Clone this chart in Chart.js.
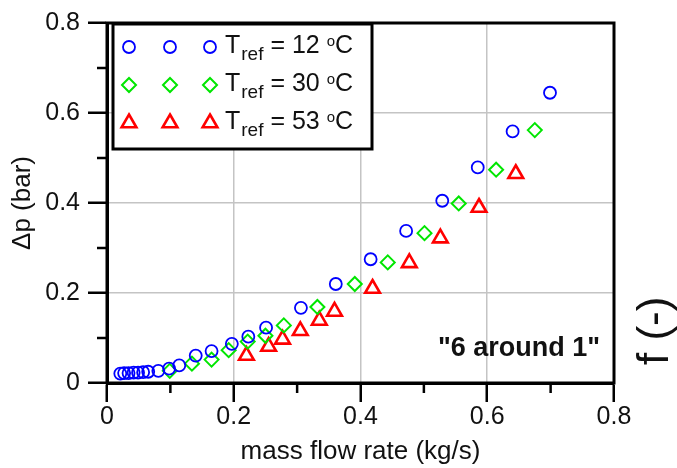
<!DOCTYPE html>
<html>
<head>
<meta charset="utf-8">
<script src="https://cdn.jsdelivr.net/npm/chart.js"></script>
<style>
  html, body { margin: 0; padding: 0; background: #fff; }
</style>
</head>
<body>
<canvas id="dp" width="677" height="468"></canvas>
<script>
// mass flow rate (kg/s) and pressure drop (bar) for each reference temperature
var flow12 = [0.021, 0.027, 0.034, 0.042, 0.049, 0.057, 0.065, 0.081, 0.098, 0.114, 0.140, 0.165,
  0.197, 0.223, 0.251, 0.306, 0.361, 0.416, 0.472, 0.529, 0.585, 0.640, 0.699];
var dp12 = [0.021, 0.022, 0.022, 0.023, 0.023, 0.024, 0.025, 0.027, 0.032, 0.039, 0.061, 0.071,
  0.087, 0.103, 0.123, 0.167, 0.220, 0.275, 0.338, 0.405, 0.479, 0.559, 0.645];

var flow30 = [0.099, 0.134, 0.165, 0.192, 0.222, 0.250, 0.279, 0.332, 0.391, 0.443, 0.501, 0.555, 0.614, 0.675];
var dp30 = [0.027, 0.043, 0.052, 0.073, 0.092, 0.105, 0.128, 0.169, 0.220, 0.268, 0.333, 0.399, 0.474, 0.562];

var flow53 = [0.220, 0.255, 0.277, 0.305, 0.335, 0.359, 0.419, 0.477, 0.526, 0.587, 0.645];
var dp53 = [0.061, 0.081, 0.097, 0.116, 0.139, 0.159, 0.210, 0.267, 0.322, 0.390, 0.465];

var tempLabels = ["12", "30", "53"];
var minorTicks = [0.1, 0.3, 0.5, 0.7];

var FONT = "'Liberation Sans', Arial, sans-serif";

function pts(xs, ys) {
  return xs.map(function (x, i) { return { x: x, y: ys[i] }; });
}

function marker(ctx, style, x, y, r) {
  ctx.beginPath();
  if (style === "circle") {
    ctx.arc(x, y, r, 0, Math.PI * 2);
  } else if (style === "rectRot") {
    ctx.moveTo(x - r, y); ctx.lineTo(x, y - r); ctx.lineTo(x + r, y); ctx.lineTo(x, y + r);
    ctx.closePath();
  } else {
    var a = 0;
    ctx.moveTo(x + Math.sin(a) * r, y - Math.cos(a) * r);
    a += Math.PI * 2 / 3;
    ctx.lineTo(x + Math.sin(a) * r, y - Math.cos(a) * r);
    a += Math.PI * 2 / 3;
    ctx.lineTo(x + Math.sin(a) * r, y - Math.cos(a) * r);
    ctx.closePath();
  }
  ctx.stroke();
}

// legend with three markers per row and T_ref subscripts
var legendBox = {
  id: "legendBox",
  afterDraw: function (chart) {
    var ctx = chart.ctx;
    ctx.save();
    ctx.fillStyle = "#fff";
    ctx.fillRect(113, 24, 259, 125);
    ctx.lineWidth = 3;
    ctx.strokeStyle = "#000";
    ctx.strokeRect(113, 24, 259, 125);
    chart.data.datasets.forEach(function (ds, i) {
      var base = 53 + i * 38;
      ctx.strokeStyle = ds.borderColor;
      ctx.lineWidth = ds.pointBorderWidth;
      [129, 170, 210].forEach(function (mx) {
        marker(ctx, ds.pointStyle, mx, base - 6, ds.pointRadius);
      });
      ctx.fillStyle = "#111";
      ctx.textBaseline = "alphabetic";
      ctx.textAlign = "left";
      var x = 225;
      ctx.font = "25px " + FONT;
      ctx.fillText("T", x, base);
      x += ctx.measureText("T").width + 1;
      ctx.font = "19px " + FONT;
      ctx.fillText("ref", x, base + 7);
      x += ctx.measureText("ref").width;
      ctx.font = "25px " + FONT;
      var mid = " = " + tempLabels[i] + " ";
      ctx.fillText(mid, x, base);
      x += ctx.measureText(mid).width;
      ctx.font = "15px " + FONT;
      ctx.fillText("o", x, base - 7);
      x += ctx.measureText("o").width;
      ctx.font = "25px " + FONT;
      ctx.fillText("C", x, base);
    });
    ctx.restore();
  }
};

// plot frame, minor ticks and the loose texts
var frame = {
  id: "frame",
  afterDraw: function (chart) {
    var ctx = chart.ctx, a = chart.chartArea;
    var xs = chart.scales.x, ys = chart.scales.y;
    ctx.save();
    ctx.strokeStyle = "#000";
    ctx.lineWidth = 3;
    ctx.strokeRect(a.left, a.top, a.right - a.left, a.bottom - a.top);
    ctx.lineWidth = 2.5;
    minorTicks.forEach(function (v) {
      var px = xs.getPixelForValue(v);
      ctx.beginPath(); ctx.moveTo(px, a.bottom); ctx.lineTo(px, a.bottom + 10); ctx.stroke();
      var py = ys.getPixelForValue(v);
      ctx.beginPath(); ctx.moveTo(a.left - 10, py); ctx.lineTo(a.left, py); ctx.stroke();
    });
    ctx.fillStyle = "#111";
    ctx.font = "bold 27px " + FONT;
    ctx.textAlign = "center";
    ctx.textBaseline = "alphabetic";
    ctx.fillText('"6 around 1"', 519, 356);
    ctx.translate(668, 365);
    ctx.rotate(-Math.PI / 2);
    ctx.textAlign = "left";
    ctx.font = "44px " + FONT;
    ctx.fillText("f (-)", 0, 0);
    ctx.restore();
  }
};

function gridColor(c) {
  var v = c.tick ? c.tick.value : 0;
  return (v > 0.01 && v < 0.79) ? "#c4c4c4" : "rgba(0,0,0,0)";
}

var axisCommon = {
  min: 0,
  max: 0.8,
  grid: { color: gridColor, lineWidth: 1.5, tickLength: 19, tickWidth: 2.5, tickColor: "#000" },
  border: { color: "#000", width: 3 }
};

new Chart(document.getElementById("dp"), {
  type: "scatter",
  data: {
    datasets: [
      { label: "12", data: pts(flow12, dp12), pointStyle: "circle", pointRadius: 6,
        borderColor: "#0000ff", backgroundColor: "rgba(0,0,0,0)", pointBorderWidth: 1.8 },
      { label: "30", data: pts(flow30, dp30), pointStyle: "rectRot", pointRadius: 7,
        borderColor: "#00e600", backgroundColor: "rgba(0,0,0,0)", pointBorderWidth: 2 },
      { label: "53", data: pts(flow53, dp53), pointStyle: "triangle", pointRadius: 8.5,
        borderColor: "#ff0000", backgroundColor: "rgba(0,0,0,0)", pointBorderWidth: 2.6 }
    ]
  },
  options: {
    responsive: false,
    animation: false,
    events: [],
    layout: { padding: { top: 18, right: 63, bottom: 0, left: 0 } },
    plugins: { legend: { display: false }, tooltip: { enabled: false } },
    scales: {
      x: Object.assign({}, axisCommon, {
        afterFit: function (s) { s.height = 85; },
        ticks: { stepSize: 0.2, padding: 0, color: "#111", font: { family: FONT, size: 25 },
          callback: function (v) { return String(+v.toFixed(1)); } },
        title: { display: true, text: "mass flow rate (kg/s)", color: "#111",
          font: { family: FONT, size: 26 }, padding: { top: 0, bottom: 1 } }
      }),
      y: Object.assign({}, axisCommon, {
        afterFit: function (s) { s.width = 107; },
        ticks: { stepSize: 0.2, padding: 8, color: "#111", font: { family: FONT, size: 25 },
          callback: function (v) { return String(+v.toFixed(1)); } },
        title: { display: true, text: "\u0394p (bar)", color: "#111",
          font: { family: FONT, size: 26 }, padding: { top: 7, bottom: 0 } }
      })
    }
  },
  plugins: [legendBox, frame]
});
</script>
</body>
</html>
